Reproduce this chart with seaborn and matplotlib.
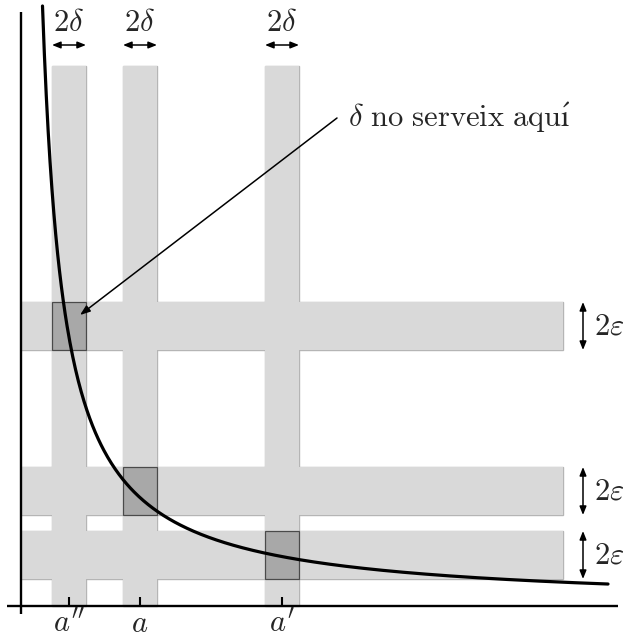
import numpy as np
import pandas as pd
import matplotlib
matplotlib.use("Agg")
import matplotlib.pyplot as plt
from matplotlib.patches import Rectangle
import seaborn as sns

# ---- data (units: 1 = 100 px, origin at axes crossing) ----
a_points = [0.48, 1.19, 2.61]
a_labels = ["$a''$", "$a$", "$a'$"]
band_centers = [2.80, 1.15, 0.51]
delta = 0.17
eps = 0.24
k_curve = 1.29
curve_x = np.linspace(0.215, 5.87, 600)

sns.set_style("white")
plt.rcParams["mathtext.fontset"] = "cm"

fig = plt.figure(figsize=(6.23, 6.36), dpi=100)
ax = fig.add_axes([0, 0, 1, 1])
ax.set_xlim(-0.21, 6.02)
ax.set_ylim(-0.30, 6.06)
ax.axis("off")

light = "#d9d9d9"
edge = "#b5b5b5"
v_top = 5.40
h_right = 5.42
FS = 22

for pass_ in (0, 1):
    for a in a_points:
        ax.add_patch(Rectangle((a - delta, 0), 2 * delta, v_top,
                               facecolor=light,
                               edgecolor=edge if pass_ == 0 else "none",
                               lw=1.0, zorder=1 + pass_))
    for b in band_centers:
        ax.add_patch(Rectangle((0, b - eps), h_right, 2 * eps,
                               facecolor=light,
                               edgecolor=edge if pass_ == 0 else "none",
                               lw=1.0, zorder=1 + pass_))

for a, b in zip(a_points, band_centers):
    ax.add_patch(Rectangle((a - delta, b - eps), 2 * delta, 2 * eps,
                           facecolor="#a8a8a8", edgecolor="#4a4a4a",
                           lw=0.9, zorder=3))

df = pd.DataFrame({"x": curve_x, "y": k_curve / curve_x})
sns.lineplot(data=df, x="x", y="y", ax=ax, color="black", lw=2.3,
             zorder=5, sort=False)
ax.set_xlabel("")
ax.set_ylabel("")

ax.plot([-0.14, 5.97], [0, 0], color="black", lw=1.7, zorder=6,
        solid_capstyle="butt")
ax.plot([0, 0], [-0.08, 5.94], color="black", lw=1.7, zorder=6,
        solid_capstyle="butt")

for a, lab in zip(a_points, a_labels):
    ax.plot([a, a], [0.01, 0.09], color="black", lw=1.5, zorder=6,
            solid_capstyle="butt")
    ax.text(a, -0.17, lab, ha="center", va="center", fontsize=FS)

arrow_kw = dict(arrowstyle="<|-|>,head_length=0.5,head_width=0.2",
                color="black", lw=1.1, shrinkA=0, shrinkB=0)
for a in a_points:
    ax.text(a, 5.83, r"$2\delta$", ha="center", va="center", fontsize=FS)
    ax.annotate("", xy=(a - delta, 5.61), xytext=(a + delta, 5.61),
                arrowprops=arrow_kw)

for b in band_centers:
    ax.annotate("", xy=(5.62, b - eps), xytext=(5.62, b + eps),
                arrowprops=arrow_kw)
    ax.text(5.73, b, r"$2\varepsilon$", ha="left", va="center", fontsize=FS)

ax.annotate("", xy=(0.59, 2.91), xytext=(3.16, 4.88),
            arrowprops=dict(arrowstyle="-|>,head_length=0.6,head_width=0.22",
                            color="black", lw=1.1, shrinkA=0, shrinkB=0),
            zorder=7)
ax.text(3.27, 4.88,
        r"$\delta\ \mathrm{no\ serveix\ aqu\'{\i}}$",
        ha="left", va="center", fontsize=FS)

fig.savefig("out.png", dpi=100)
